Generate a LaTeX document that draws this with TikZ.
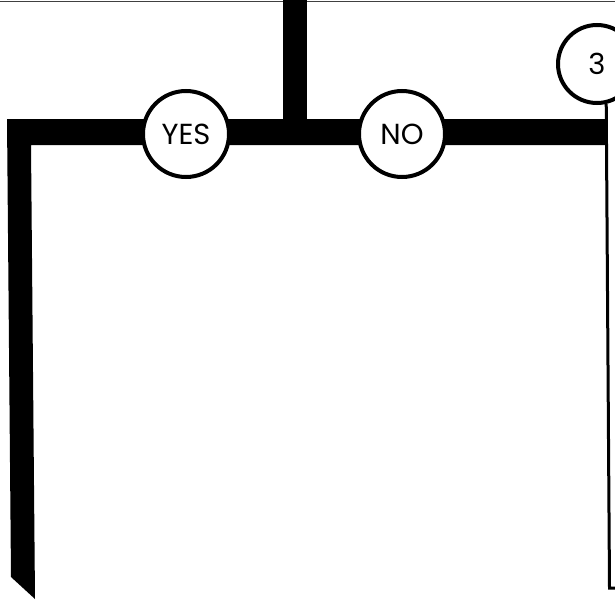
\documentclass[tikz,border=0pt]{standalone}
\usepackage{fontspec}
\setmainfont{Poppins}
\begin{document}
\begin{tikzpicture}[x=1pt,y=-1pt,
  bubble/.style={circle, draw=black, fill=white, line width=4pt, minimum size=86pt, inner sep=0pt, font=\fontsize{29}{32}\selectfont},
  thinline/.style={line width=3pt, draw=black}]
\useasboundingbox (0,0) rectangle (615,605);
% thin edge line at top
\draw[line width=1.2pt, black!75] (0,1.5) -- (615,1.5);
% thick bars
\coordinate (tl) at (7,119);
\coordinate (tr) at (605,145);
\fill[black] (tl) -- (605,119) -- (tr) -- (31,145) -- (35,599) -- (11,577) -- cycle;
\fill[black] (283,0) rectangle (307,121);
% circles
\node[bubble] (yes) at (186,134) {YES};
\node[bubble] (no) at (402,134) {NO};
\node[bubble, minimum size=78pt] (three) at (597,64) {3};
% thin line down the right side
\coordinate (lineend) at (609.5,588);
\coordinate (tick) at (615,588);
\draw[thinline] (three.-77) -- (lineend) -- (tick);
\end{tikzpicture}
\end{document}
